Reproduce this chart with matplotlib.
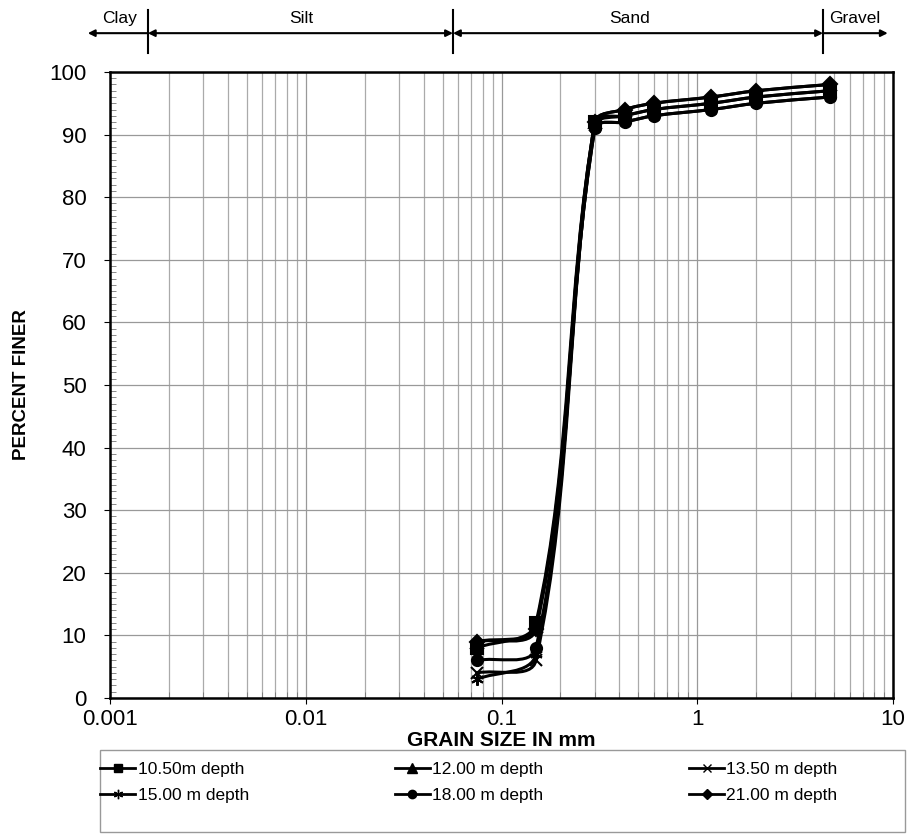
import numpy as np
import matplotlib.pyplot as plt
from matplotlib.path import Path
from matplotlib.patches import PathPatch, Rectangle
from matplotlib.lines import Line2D
from matplotlib.ticker import LogLocator, FixedLocator, NullFormatter

plt.rcParams['font.family'] = ['Liberation Sans', 'DejaVu Sans']

# sieve sizes (mm) and percent finer for each depth
sizes = [4.75, 2.0, 1.18, 0.6, 0.425, 0.3, 0.15, 0.075]
d1050 = [97, 96, 95, 94, 93, 92, 12, 8]
d1200 = [98, 97, 96, 95, 94, 92, 11.5, 9]
d1350 = [97, 96, 95, 94, 93, 91.5, 6, 4]
d1500 = [96, 95, 94, 93, 92, 91, 7, 3]
d1800 = [96, 95, 94, 93, 92, 91, 8, 6]
d2100 = [98, 97, 96, 95, 94, 92, 11, 9]

labels = ["10.50m depth", "12.00 m depth", "13.50 m depth",
          "15.00 m depth", "18.00 m depth", "21.00 m depth"]
series = [d1050, d1200, d1350, d1500, d1800, d2100]
markers = ['s', '^', 'x', (6, 2, 0), 'o', 'D']
msizes = [8, 9, 8, 9, 8, 7]

# soil class boundaries (mm) as drawn above the chart
class_names = ["Clay", "Silt", "Sand", "Gravel"]
class_bounds = [0.00156, 0.0565, 4.39]

# rough screen scale (px per decade, px per percent) used for smoothing
SX, SY = 195.75, 6.26


def smooth_path(xs, ys, f=0.33):
    """Excel-like smoothed line, built as cubic bezier segments."""
    P = np.column_stack([np.log10(xs) * SX, np.asarray(ys, float) * SY])
    n = len(P)
    tang = []
    for i in range(n):
        d = P[min(i + 1, n - 1)] - P[max(i - 1, 0)]
        tang.append(d / np.hypot(*d))
    verts = [P[0]]
    codes = [Path.MOVETO]
    for i in range(n - 1):
        L = np.hypot(*(P[i + 1] - P[i]))
        verts += [P[i] + tang[i] * L * f, P[i + 1] - tang[i + 1] * L * f, P[i + 1]]
        codes += [Path.CURVE4] * 3
    verts = [(10 ** (vx / SX), vy / SY) for vx, vy in verts]
    return Path(verts, codes)


fig = plt.figure(figsize=(9.16, 8.36), dpi=100)
ax = fig.add_axes([0.1201, 0.1651, 0.8548, 0.7488])
ax.set_xscale('log')
ax.set_xlim(0.001, 10)
ax.set_ylim(0, 100)

for ys, m, ms in zip(series, markers, msizes):
    patch = PathPatch(smooth_path(sizes, ys), facecolor='none',
                      edgecolor='black', lw=2.2, zorder=3)
    ax.add_patch(patch)
    ax.plot(sizes, ys, linestyle='none', marker=m, markersize=ms,
            color='black', mew=1.5, zorder=4)

ax.xaxis.set_minor_locator(LogLocator(base=10, subs=np.arange(2, 10), numticks=20))
ax.xaxis.set_minor_formatter(NullFormatter())
ax.set_xticks([0.001, 0.01, 0.1, 1, 10])
ax.set_xticklabels(["0.001", "0.01", "0.1", "1", "10"])
ax.set_yticks(np.arange(0, 101, 10))
ax.yaxis.set_minor_locator(FixedLocator(np.arange(0, 101, 1)))

ax.tick_params(which='major', direction='out', length=4)
ax.tick_params(which='minor', direction='in', length=4, color='#777777')
ax.tick_params(axis='x', which='major', labelsize=16, pad=4)
ax.tick_params(axis='y', which='major', labelsize=16, pad=13)

ax.grid(True, which='major', axis='both', color='#999999', lw=0.9)
ax.grid(True, which='minor', axis='x', color='#aaaaaa', lw=0.9)
ax.set_axisbelow(True)
for s in ax.spines.values():
    s.set_linewidth(1.8)

ax.set_xlabel("GRAIN SIZE IN mm", fontsize=15, fontweight='bold')
ax.xaxis.set_label_coords(0.5, -0.0535)
ax.set_ylabel("PERCENT FINER", fontsize=13.5, fontweight='bold')
ax.yaxis.set_label_coords(-0.102, 0.5)

# soil classification bar above the plot
tr = ax.get_xaxis_transform()
y_arrow = 1.062
for b in class_bounds:
    ax.plot([b, b], [1.030, 1.099], transform=tr, color='black', lw=1.5,
            clip_on=False)
ends = [0.00077] + class_bounds + [9.4]
for i, name in enumerate(class_names):
    x0, x1 = ends[i], ends[i + 1]
    if i == 0:
        xy, xytext, style = (x0, y_arrow), (x1, y_arrow), '-|>'
    elif i == 3:
        xy, xytext, style = (x1, y_arrow), (x0, y_arrow), '-|>'
    else:
        xy, xytext, style = (x1, y_arrow), (x0, y_arrow), '<|-|>'
    ax.annotate("", xy=xy, xytext=xytext, xycoords=tr, textcoords=tr,
                arrowprops=dict(arrowstyle=style, color='black', lw=1.5,
                                shrinkA=0, shrinkB=0, mutation_scale=10))
label_x = [0.00112, 0.0095, 0.453, 6.4]
for name, lx in zip(class_names, label_x):
    ax.text(lx, 1.086, name, transform=tr, ha='center', va='center', fontsize=12.5)

# legend, row-wise ordering, with its own frame
handles = [Line2D([], [], color='black', lw=2, marker=m, markersize=ms * 0.75)
           for m, ms in zip(markers, msizes)]
order = [0, 3, 1, 4, 2, 5]
leg = fig.legend([handles[i] for i in order], [labels[i] for i in order],
                 ncol=3, loc='upper left',
                 bbox_to_anchor=(0.104, 1 - 757 / 836),
                 fontsize=12.5, frameon=False, handlelength=2.0,
                 handletextpad=0.15, borderaxespad=0, borderpad=0.3,
                 labelspacing=0.6, columnspacing=8.4)
fig.add_artist(Rectangle((100 / 916, 1 - 832 / 836), 805 / 916, 82 / 836,
                         transform=fig.transFigure, fill=False,
                         edgecolor='#999999', lw=1.0))

fig.savefig("out.png", dpi=100)
